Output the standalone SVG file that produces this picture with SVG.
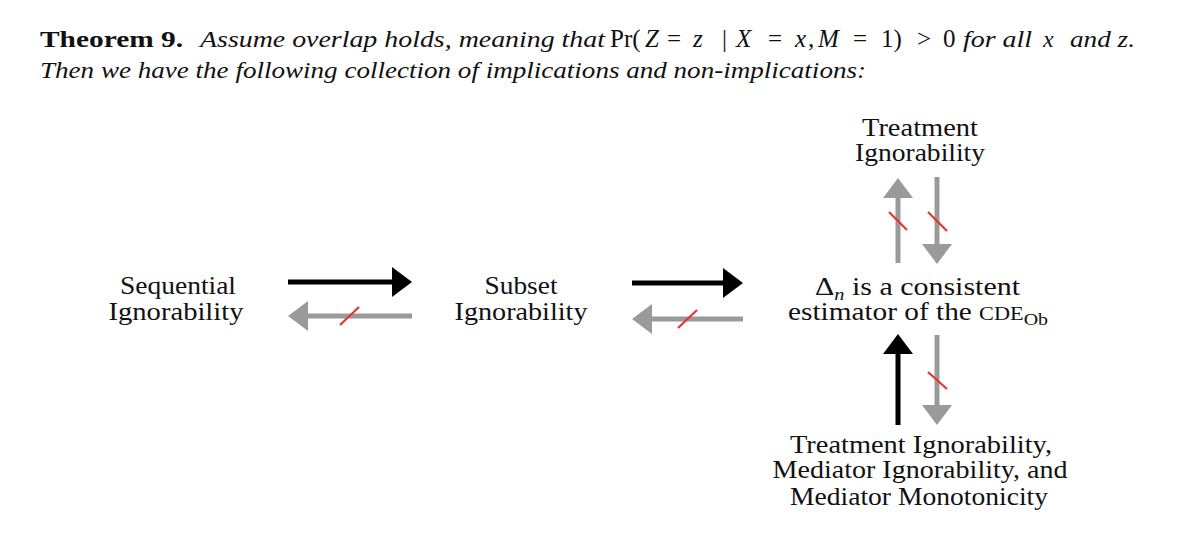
<svg xmlns="http://www.w3.org/2000/svg" width="1200" height="533" viewBox="0 0 1200 533" font-family="'Liberation Serif', serif">
<style>
text{font-family:'Liberation Serif',serif;fill:#111;}
.t{font-size:24px;}
.b{font-weight:bold;}
.i{font-style:italic;}
.lbl{font-size:25px;text-anchor:middle;}
.lbs{font-size:25px;}
.blk{stroke:#000;stroke-width:5;fill:none;marker-end:url(#hb);}
.gry{stroke:#9a9a9a;stroke-width:5;fill:none;marker-end:url(#hg);}
.neg{stroke:#e8332b;stroke-width:2.2;}
</style>
<defs>
<marker id="hb" viewBox="0 0 20 30" refX="1" refY="15" markerWidth="20" markerHeight="30" markerUnits="userSpaceOnUse" orient="auto">
<path d="M0,0 L20,15 L0,30 Z" fill="#000"/>
</marker>
<marker id="hg" viewBox="0 0 20 30" refX="1" refY="15" markerWidth="20" markerHeight="30" markerUnits="userSpaceOnUse" orient="auto">
<path d="M0,0 L20,15 L0,30 Z" fill="#9a9a9a"/>
</marker>
</defs>
<rect width="1200" height="533" fill="#fff"/>
<g id="theorem">
<text class="t b" x="40" y="47" textLength="143" lengthAdjust="spacingAndGlyphs">Theorem 9.</text>
<text class="t i" x="200" y="47" textLength="405" lengthAdjust="spacingAndGlyphs">Assume overlap holds, meaning that</text>
<text class="t" y="47" style="font-size:25px"><tspan x="610">Pr(</tspan><tspan x="645" class="i">Z</tspan><tspan x="667">=</tspan><tspan x="693" class="i">z</tspan><tspan x="722">|</tspan><tspan x="736" class="i">X</tspan><tspan x="768">=</tspan><tspan x="795" class="i">x</tspan><tspan x="808">,</tspan><tspan x="818" class="i">M</tspan><tspan x="853">=</tspan><tspan x="881">1)</tspan><tspan x="917">&gt;</tspan><tspan x="943">0</tspan></text>
<text class="t i" x="963" y="47" textLength="69" lengthAdjust="spacingAndGlyphs">for all</text>
<text class="t i" x="1043" y="47">x</text>
<text class="t i" x="1070" y="47" textLength="65" lengthAdjust="spacingAndGlyphs">and z.</text>
<text class="t i" x="40" y="78" textLength="826" lengthAdjust="spacingAndGlyphs">Then we have the following collection of implications and non-implications:</text>
</g>
<g id="sequential">
<text class="lbl" x="178" y="294" textLength="116" lengthAdjust="spacingAndGlyphs">Sequential</text>
<text class="lbl" x="176" y="320" textLength="135" lengthAdjust="spacingAndGlyphs">Ignorability</text>
</g>
<g id="subset">
<text class="lbl" x="521" y="294" textLength="73" lengthAdjust="spacingAndGlyphs">Subset</text>
<text class="lbl" x="521" y="320" textLength="133" lengthAdjust="spacingAndGlyphs">Ignorability</text>
</g>
<g id="treatment">
<text class="lbl" x="920" y="136" textLength="116" lengthAdjust="spacingAndGlyphs">Treatment</text>
<text class="lbl" x="920" y="161" textLength="130" lengthAdjust="spacingAndGlyphs">Ignorability</text>
</g>
<g id="estimator">
<text class="lbs" x="815" y="295" textLength="205" lengthAdjust="spacingAndGlyphs">Δ<tspan class="i" dy="5" style="font-size:17px">n</tspan><tspan dy="-5"> is a consistent</tspan></text>
<text class="lbs" x="788" y="320" textLength="260" lengthAdjust="spacingAndGlyphs">estimator of the <tspan style="font-size:19px">CDE</tspan><tspan dy="5" style="font-size:17px">Ob</tspan></text>
</g>
<g id="assumptions">
<text class="lbl" x="921" y="453" textLength="262" lengthAdjust="spacingAndGlyphs">Treatment Ignorability,</text>
<text class="lbl" x="920" y="478" textLength="295" lengthAdjust="spacingAndGlyphs">Mediator Ignorability, and</text>
<text class="lbl" x="919" y="505" textLength="258" lengthAdjust="spacingAndGlyphs">Mediator Monotonicity</text>
</g>
<g id="connectors">
<line class="blk" x1="288" y1="282" x2="393" y2="282"/>
<line class="gry" x1="412" y1="316" x2="307" y2="316"/>
<line class="neg" x1="340" y1="325" x2="359" y2="307"/>
<line class="blk" x1="632" y1="283" x2="724" y2="283"/>
<line class="gry" x1="743" y1="319" x2="651" y2="319"/>
<line class="neg" x1="678" y1="328" x2="697" y2="310"/>
<line class="gry" x1="898" y1="263" x2="898" y2="197"/>
<line class="neg" x1="889" y1="212" x2="907" y2="230"/>
<line class="gry" x1="937" y1="177" x2="937" y2="245"/>
<line class="neg" x1="928" y1="212" x2="947" y2="231"/>
<line class="blk" x1="898" y1="425" x2="898" y2="353"/>
<line class="gry" x1="937" y1="335" x2="937" y2="406"/>
<line class="neg" x1="928" y1="372" x2="947" y2="389"/>
</g>
</svg>
